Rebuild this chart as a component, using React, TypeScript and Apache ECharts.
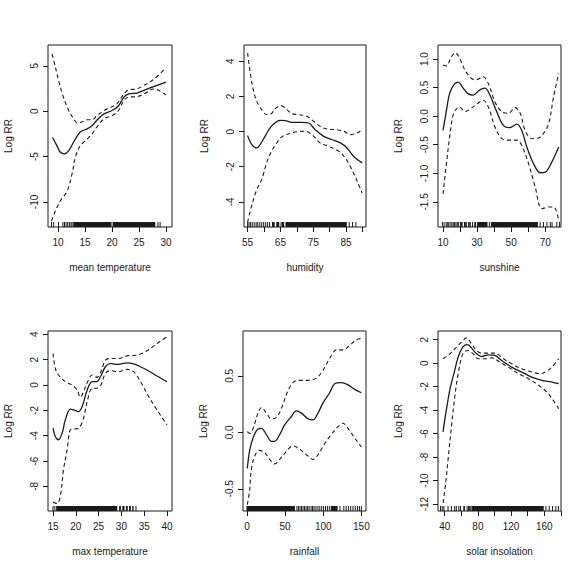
import { useEffect, useRef } from "react";
import * as echarts from "echarts";

const FONT = "'Liberation Sans', Arial, sans-serif";
const INK = "#1a1a1a";

// ---------- mean temperature ----------
const meanTempFit = [[9.0,-2.9],[9.8,-3.8],[10.4,-4.5],[11.2,-4.7],[12.0,-4.35],[12.9,-3.4],[14.1,-2.3],[15.4,-1.95],[16.3,-1.6],[17.2,-1.0],[18.5,-0.3],[20.0,0.07],[21.2,0.6],[22.2,1.55],[23.1,1.9],[24.6,2.0],[25.9,2.3],[27.7,2.7],[30.0,3.2]];
const meanTempUpper = [[8.9,6.3],[9.5,4.9],[10.1,3.4],[11.0,1.55],[12.0,0.07],[12.9,-0.85],[13.6,-1.3],[14.4,-1.2],[15.4,-0.95],[16.3,-0.95],[17.2,-0.5],[18.5,0.07],[20.0,0.5],[20.9,0.8],[22.2,1.9],[23.1,2.35],[24.6,2.45],[25.9,2.85],[27.7,3.5],[30.0,4.8]];
const meanTempLower = [[8.8,-12.1],[9.5,-11.0],[10.4,-9.9],[11.7,-8.8],[12.6,-6.9],[13.2,-5.1],[14.1,-3.8],[15.1,-3.25],[16.3,-2.5],[17.2,-1.75],[18.5,-0.85],[20.0,-0.5],[21.2,0.07],[22.2,1.2],[23.1,1.55],[24.6,1.6],[25.9,1.9],[27.7,2.45],[28.6,2.3],[30.0,1.8]];
const meanTempRug = [[8.8,8.8],[9.2,9.2],[10.1,10.1],[10.9,10.9],[11.2,11.2],[11.5,11.5],[11.8,11.8],[12.1,12.1],[12.4,12.4],[12.6,12.6],[12.9,20.0],[20.2,28.1],[28.5,28.5],[28.9,28.9]];
const meanTempXTicks = [10, 15, 20, 25, 30];
const meanTempXLabels = [10, 15, 20, 25, 30];
const meanTempYTicks = [-10, -5, 0, 5];

// ---------- humidity ----------
const humidityFit = [[55,-0.23],[55.7,-0.55],[56.7,-0.83],[57.8,-0.93],[58.8,-0.74],[60.3,-0.27],[61.8,0.2],[63.4,0.5],[64.9,0.64],[66.4,0.63],[68.5,0.53],[71.5,0.53],[73.6,0.49],[75.6,0.11],[78.2,-0.27],[80.7,-0.45],[83.3,-0.64],[85.3,-0.93],[87.3,-1.4],[89.9,-1.78]];
const humidityUpper = [[55,4.47],[55.7,3.5],[56.7,2.4],[57.8,1.72],[59.3,1.25],[60.8,0.97],[62.1,1.0],[63.4,1.3],[65.2,1.48],[66.4,1.35],[68.5,1.02],[70.5,0.97],[73.1,0.87],[75.1,0.59],[77.1,0.3],[79.2,0.15],[81.7,0.11],[84.3,0.02],[86.3,-0.17],[88.4,-0.08],[89.9,0.11]];
const humidityLower = [[55,-5.16],[56.2,-4.25],[57.8,-3.3],[59.3,-2.73],[60.8,-1.78],[62.3,-1.12],[63.9,-0.64],[65.4,-0.3],[67.4,-0.13],[69.5,-0.02],[72.6,0.02],[74.6,-0.17],[77.1,-0.64],[79.7,-0.83],[82.8,-1.12],[84.8,-1.5],[86.8,-2.16],[88.4,-2.82],[89.9,-3.49]];
const humidityRug = [[55,55],[55.4,55.4],[55.9,55.9],[56.4,56.4],[57.0,57.0],[57.6,57.6],[58.1,58.1],[58.7,58.7],[59.3,59.3],[59.9,59.9],[60.5,60.5],[61.1,61.1],[61.7,61.7],[62.6,63.4],[63.9,64.8],[65.2,65.2],[65.6,66.3],[66.7,85.4],[86.0,86.0],[87.0,87.0],[88.0,88.0]];
const humidityXTicks = [55, 60, 65, 70, 75, 80, 85, 90];
const humidityXLabels = [55, 65, 75, 85];
const humidityYTicks = [-4, -2, 0, 2, 4];

// ---------- sunshine ----------
const sunshineFit = [[10,-0.25],[12,0.1],[13.9,0.4],[16.9,0.57],[19.2,0.59],[21.8,0.49],[24.8,0.39],[27.7,0.37],[31.6,0.46],[34.6,0.49],[37.5,0.37],[41.5,0.08],[45.4,-0.16],[49.3,-0.2],[53.3,-0.14],[56.2,-0.25],[59.2,-0.54],[63.1,-0.83],[67.1,-0.99],[70,-0.98],[73.9,-0.8],[77.9,-0.54]];
const sunshineUpper = [[10,0.89],[12,0.88],[14.9,1.04],[17.3,1.11],[19.8,1.01],[22.8,0.81],[26.7,0.66],[29.7,0.64],[33.6,0.69],[36.6,0.57],[40.5,0.25],[44.4,0.08],[48.4,0.05],[52.3,0.15],[55.3,0.05],[58.2,-0.25],[62.1,-0.39],[65.1,-0.39],[69,-0.3],[72,-0.13],[74.9,0.34],[77.9,0.75]];
const sunshineLower = [[10,-1.36],[12,-0.83],[13.9,-0.36],[15.9,0.02],[17.9,0.13],[19.8,0.16],[22.8,0.08],[25.7,0.12],[29.7,0.21],[33.6,0.28],[36.6,0.16],[40.5,-0.19],[44.4,-0.39],[48.4,-0.42],[53.3,-0.42],[56.2,-0.51],[60.2,-0.83],[64.1,-1.24],[68,-1.62],[72,-1.59],[74.9,-1.59],[77.9,-1.82]];
const sunshineRug = [[9.6,9.6],[10.6,10.6],[11.8,11.8],[12.5,12.5],[13.3,13.3],[14.2,14.2],[15.2,15.2],[16.0,16.0],[16.8,16.8],[17.6,17.6],[18.4,18.4],[19.2,19.2],[20.3,21.8],[22.6,22.6],[23.3,24.3],[25.0,25.0],[25.7,26.6],[27.3,27.3],[28.6,29.7],[30.3,36.4],[37.2,37.2],[38.4,66.0],[67.0,67.0],[69.0,69.0],[71.0,71.0],[73.0,73.0],[74.0,74.0],[76.8,76.8],[78.4,78.4]];
const sunshineXTicks = [10, 20, 30, 40, 50, 60, 70];
const sunshineXLabels = [10, 30, 50, 70];
const sunshineYTicks = [-1.5, -1.0, -0.5, 0.0, 0.5, 1.0];

// ---------- max temperature ----------
const maxTempFit = [[15,-3.4],[15.5,-4.06],[16.2,-4.32],[17,-3.8],[17.7,-2.75],[18.8,-1.91],[19.5,-1.96],[20.6,-2.1],[21.4,-1.7],[22.5,-0.39],[23.6,0.26],[24.6,0.26],[25.4,0.65],[26.5,1.44],[27.6,1.7],[29,1.62],[30.5,1.7],[31.6,1.75],[33.4,1.57],[35.6,1.18],[37.8,0.71],[40,0.26]];
const maxTempUpper = [[15,2.49],[15.5,1.31],[16.2,0.79],[17.7,0.26],[19.2,0],[20.3,-0.39],[21,-0.97],[21.7,-0.52],[22.6,0.26],[23.6,0.79],[24.6,0.6],[25.5,1.05],[26.5,1.96],[27.6,2.09],[29.4,2.09],[31.2,2.3],[33.4,2.36],[35.6,2.7],[37.8,3.27],[40,3.8]];
const maxTempLower = [[15,-9.24],[15.9,-9.35],[16.6,-8.77],[17.3,-6.68],[18.1,-5.1],[18.8,-3.53],[19.5,-3.48],[20.6,-3.4],[21.6,-2.75],[22.5,-1.31],[23.6,-0.26],[24.6,-0.26],[25.5,0],[26.5,0.92],[27.6,1.13],[29.4,1.05],[31.2,1.23],[32.7,1.05],[34.2,0.26],[36,-0.92],[37.8,-1.96],[40,-3.14]];
const maxTempRug = [[15,15],[15.4,15.4],[15.8,29.2],[29.6,30.0],[30.3,30.8],[31.1,31.5],[31.8,32.2],[32.5,32.8],[33.2,33.2]];
const maxTempXTicks = [15, 20, 25, 30, 35, 40];
const maxTempXLabels = [15, 20, 25, 30, 35, 40];
const maxTempYTicks = [-8, -6, -4, -2, 0, 2, 4];

// ---------- rainfall ----------
const rainfallFit = [[0.4,-0.32],[3.5,-0.16],[7.9,-0.05],[14.4,0.03],[18.8,0.035],[25.4,-0.02],[31.9,-0.08],[36.3,-0.08],[42.9,-0.02],[49.4,0.065],[58.2,0.14],[64.7,0.19],[71.3,0.17],[80,0.12],[86.6,0.11],[93.1,0.17],[99.7,0.26],[108.4,0.35],[115,0.43],[123.7,0.44],[132.5,0.42],[141.2,0.38],[150,0.35]];
const rainfallUpper = [[0.4,0.006],[3.5,-0.01],[7.9,0.035],[14.4,0.17],[18.8,0.22],[25.4,0.17],[31.9,0.12],[38.5,0.13],[45,0.21],[53.8,0.37],[60.3,0.44],[66.9,0.46],[80,0.46],[91,0.48],[99.7,0.55],[110.6,0.68],[117.2,0.73],[125.9,0.73],[134.7,0.77],[143.4,0.82],[150,0.83]];
const rainfallLower = [[0.4,-0.64],[3.5,-0.51],[5.7,-0.33],[10.1,-0.21],[16.6,-0.16],[23.2,-0.18],[29.7,-0.24],[36.3,-0.28],[42.9,-0.24],[51.6,-0.17],[60.3,-0.12],[64.7,-0.13],[71.3,-0.16],[80,-0.21],[86.6,-0.24],[93.1,-0.2],[101.9,-0.1],[110.6,-0.02],[119.4,0.05],[125.9,0.08],[132.5,0.035],[141.2,-0.05],[150,-0.13]];
const rainfallRug = [[0,63.5],[65.5,65.5],[67.5,67.5],[69.5,69.5],[71.5,71.5],[73.5,73.5],[75.5,75.5],[77.5,77.5],[79.5,79.5],[81.5,81.5],[84,84],[86,86],[88,88],[90.5,90.5],[93,93],[95.5,95.5],[98,98],[100.5,100.5],[103,103],[105.5,105.5],[108,108],[110.5,119.5],[122,122],[127,127],[130,130],[133,133],[136,136],[139,139],[142,142],[145,145],[147.5,147.5],[150,150]];
const rainfallXTicks = [0, 50, 100, 150];
const rainfallXLabels = [0, 50, 100, 150];
const rainfallYTicks = [-0.5, 0.0, 0.5];

// ---------- solar insolation ----------
const solarFit = [[38,-5.85],[40,-4.86],[43.2,-3.45],[46.9,-2.03],[52.1,-0.62],[56.2,0.51],[62.2,1.41],[67.5,1.58],[72.3,1.3],[78.4,0.79],[84.4,0.56],[92.5,0.71],[100.6,0.65],[108.7,0.23],[120.8,-0.34],[132.9,-0.76],[145,-1.19],[157.2,-1.47],[169.3,-1.61],[177.4,-1.75]];
const solarUpper = [[38,0.37],[44,0.65],[52.1,1.21],[60.2,1.78],[66.3,2.15],[72.3,1.64],[78.4,1.07],[84.4,0.85],[92.5,0.85],[100.6,0.85],[110.7,0.37],[120.8,-0.06],[132.9,-0.48],[145,-0.76],[155.2,-0.9],[161.2,-0.76],[169.3,-0.34],[177.4,0.37]];
const solarLower = [[38,-11.9],[41.2,-10.2],[44,-8.25],[48.1,-5.42],[52.1,-2.88],[56.2,-0.9],[62.2,0.85],[68.3,1.07],[74.3,0.79],[80.4,0.37],[88.5,0.37],[96.6,0.45],[106.7,0.08],[116.8,-0.34],[128.9,-0.9],[141.1,-1.33],[153.2,-1.89],[163.2,-2.46],[169.3,-3.02],[177.4,-3.87]];
const solarRug = [[35,35],[37,37],[39,39],[44,44],[48,48],[52,52],[54,54],[57,57],[59,59],[63,65],[67,67],[68.5,68.5],[70,70],[71.5,71.5],[73,160],[162,162],[166,166],[170,170],[174,174],[177,177]];
const solarXTicks = [40, 60, 80, 100, 120, 140, 160, 180];
const solarXLabels = [40, 80, 120, 160];
const solarYTicks = [-12, -10, -8, -6, -4, -2, 0, 2];

const panels = [
  { title: "mean temperature", x: [8.15, 31.1], y: [-12.76, 7.29], xTicks: meanTempXTicks, xLabels: meanTempXLabels, yTicks: meanTempYTicks, dec: 0, fit: meanTempFit, upper: meanTempUpper, lower: meanTempLower, rug: meanTempRug, box: [48, 45, 124, 182] },
  { title: "humidity", x: [53.9, 91.1], y: [-5.43, 4.93], xTicks: humidityXTicks, xLabels: humidityXLabels, yTicks: humidityYTicks, dec: 0, fit: humidityFit, upper: humidityUpper, lower: humidityLower, rug: humidityRug, box: [244, 45, 122, 182] },
  { title: "sunshine", x: [7.05, 79.25], y: [-1.94, 1.246], xTicks: sunshineXTicks, xLabels: sunshineXLabels, yTicks: sunshineYTicks, dec: 1, fit: sunshineFit, upper: sunshineUpper, lower: sunshineLower, rug: sunshineRug, box: [438, 45, 123, 182] },
  { title: "max temperature", x: [13.9, 41.1], y: [-9.94, 4.26], xTicks: maxTempXTicks, xLabels: maxTempXLabels, yTicks: maxTempYTicks, dec: 0, fit: maxTempFit, upper: maxTempUpper, lower: maxTempLower, rug: maxTempRug, box: [48, 331, 124, 180] },
  { title: "rainfall", x: [-5.25, 156.1], y: [-0.697, 0.897], xTicks: rainfallXTicks, xLabels: rainfallXLabels, yTicks: rainfallYTicks, dec: 1, fit: rainfallFit, upper: rainfallUpper, lower: rainfallLower, rug: rainfallRug, box: [243, 331, 123, 180] },
  { title: "solar insolation", x: [31.9, 180.2], y: [-12.59, 2.735], xTicks: solarXTicks, xLabels: solarXLabels, yTicks: solarYTicks, dec: 0, fit: solarFit, upper: solarUpper, lower: solarLower, rug: solarRug, box: [438, 331, 123, 180] },
];

function buildOption() {
  const grid: any[] = [];
  const xAxis: any[] = [];
  const yAxis: any[] = [];
  const series: any[] = [];
  panels.forEach((p, i) => {
    const [left, top, width, height] = p.box;
    grid.push({ left, top, width, height, show: true, borderColor: INK, borderWidth: 1, backgroundColor: "transparent" });
    xAxis.push({
      type: "value", gridIndex: i, min: p.x[0], max: p.x[1], position: "bottom",
      name: p.title, nameLocation: "middle", nameGap: 35,
      nameTextStyle: { fontSize: 10, color: INK, fontFamily: FONT },
      axisLine: { show: false, onZero: false },
      axisTick: { show: true, length: 5, customValues: p.xTicks, lineStyle: { color: INK, width: 1 } },
      axisLabel: { customValues: p.xLabels, fontSize: 10, color: INK, fontFamily: FONT, margin: 10, formatter: (v: number) => String(v) },
      splitLine: { show: false },
    });
    yAxis.push({
      type: "value", gridIndex: i, min: p.y[0], max: p.y[1], position: "left",
      name: "Log RR", nameLocation: "middle", nameGap: 35,
      nameTextStyle: { fontSize: 10, color: INK, fontFamily: FONT },
      axisLine: { show: false, onZero: false },
      axisTick: { show: true, length: 5, customValues: p.yTicks, lineStyle: { color: INK, width: 1 } },
      axisLabel: { customValues: p.yTicks, rotate: 90, fontSize: 10, color: INK, fontFamily: FONT, margin: 9, formatter: (v: number) => v.toFixed(p.dec) },
      splitLine: { show: false },
    });
    const common = { type: "line", xAxisIndex: i, yAxisIndex: i, showSymbol: false, symbol: "none", smooth: 0.35, silent: true };
    series.push({ ...common, data: p.upper, lineStyle: { color: INK, width: 1.1, type: [4, 3] } });
    series.push({ ...common, data: p.lower, lineStyle: { color: INK, width: 1.1, type: [4, 3] } });
    series.push({ ...common, data: p.fit, lineStyle: { color: INK, width: 1.3, type: "solid" } });
    const yMin = p.y[0];
    series.push({
      type: "custom", xAxisIndex: i, yAxisIndex: i, silent: true,
      data: p.rug,
      renderItem: (_params: any, api: any) => {
        const a = api.coord([api.value(0), yMin]);
        const b = api.coord([api.value(1), yMin]);
        const w = Math.max(b[0] - a[0], 1);
        return { type: "rect", shape: { x: a[0] - 0.5, y: a[1] - 5, width: w, height: 5 }, style: { fill: INK } };
      },
    });
  });
  return {
    animation: false,
    backgroundColor: "#ffffff",
    textStyle: { fontFamily: FONT },
    grid, xAxis, yAxis, series,
  };
}

export default function App() {
  const ref = useRef<HTMLDivElement>(null);
  useEffect(() => {
    if (!ref.current) return;
    const chart = echarts.init(ref.current, undefined, { renderer: "svg" });
    chart.setOption(buildOption() as any);
    return () => chart.dispose();
  }, []);
  return <div ref={ref} style={{ position: "absolute", left: 0, top: 0, width: 587, height: 569, background: "#fff" }} />;
}
